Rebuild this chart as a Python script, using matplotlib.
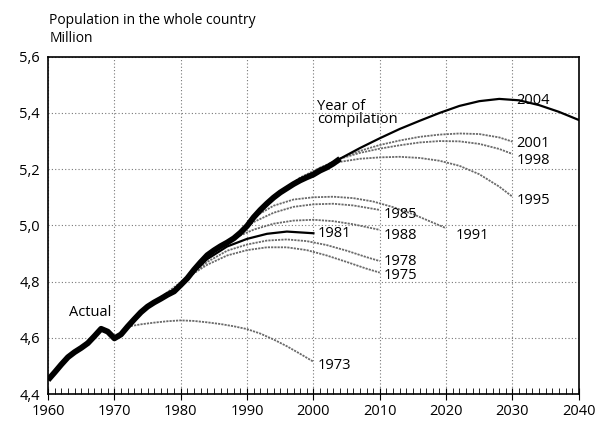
import matplotlib
matplotlib.use('Agg')
from matplotlib import pyplot as plt
from matplotlib.ticker import MultipleLocator, FuncFormatter

plt.rcParams['font.family'] = ['Open Sans', 'DejaVu Sans']

# actual population, million
actual_years = [1960, 1961, 1962, 1963, 1964, 1965, 1966, 1967, 1968, 1969, 1970,
                1971, 1972, 1973, 1974, 1975, 1976, 1977, 1978, 1979, 1980,
                1981, 1982, 1983, 1984, 1985, 1986, 1987, 1988, 1989, 1990,
                1991, 1992, 1993, 1994, 1995, 1996, 1997, 1998, 1999, 2000,
                2001, 2002, 2003, 2004]
actual_vals = [4.450, 4.477, 4.505, 4.531, 4.549, 4.564, 4.581, 4.606, 4.632, 4.622, 4.598,
               4.612, 4.640, 4.666, 4.691, 4.711, 4.726, 4.739, 4.753, 4.765, 4.788,
               4.812, 4.842, 4.869, 4.894, 4.911, 4.926, 4.939, 4.954, 4.974, 4.998,
               5.029, 5.055, 5.078, 5.099, 5.117, 5.132, 5.147, 5.160, 5.171, 5.181,
               5.195, 5.206, 5.220, 5.237]

# projections by year of compilation
proj = {
    '1973': ([1972, 1974, 1976, 1978, 1980, 1982, 1984, 1986, 1988, 1990, 1992, 1994, 1996, 1998, 2000],
             [4.640, 4.648, 4.654, 4.659, 4.662, 4.660, 4.655, 4.649, 4.641, 4.631, 4.615, 4.594, 4.570, 4.543, 4.515]),
    '1975': ([1975, 1978, 1981, 1984, 1987, 1990, 1993, 1996, 1999, 2002, 2005, 2008, 2010],
             [4.711, 4.762, 4.815, 4.860, 4.893, 4.912, 4.922, 4.922, 4.912, 4.893, 4.870, 4.846, 4.832]),
    '1978': ([1978, 1981, 1984, 1987, 1990, 1993, 1996, 1999, 2002, 2005, 2008, 2010],
             [4.753, 4.810, 4.870, 4.910, 4.932, 4.946, 4.950, 4.944, 4.930, 4.910, 4.887, 4.873]),
    '1981': ([1981, 1984, 1987, 1990, 1993, 1996, 2000],
             [4.812, 4.880, 4.925, 4.952, 4.970, 4.978, 4.972]),
    '1985': ([1985, 1988, 1991, 1994, 1997, 2000, 2003, 2006, 2010],
             [4.911, 4.960, 5.012, 5.045, 5.066, 5.075, 5.077, 5.071, 5.055]),
    '1988': ([1988, 1991, 1994, 1997, 2000, 2003, 2006, 2010],
             [4.954, 4.985, 5.006, 5.017, 5.020, 5.015, 5.004, 4.984]),
    '1991': ([1991, 1994, 1997, 2000, 2003, 2006, 2009, 2012, 2015, 2018, 2020],
             [5.029, 5.070, 5.092, 5.100, 5.102, 5.097, 5.085, 5.065, 5.040, 5.010, 4.990]),
    '1995': ([1995, 1998, 2001, 2004, 2007, 2010, 2013, 2016, 2019, 2022, 2025, 2028, 2030],
             [5.117, 5.170, 5.205, 5.226, 5.237, 5.242, 5.244, 5.240, 5.230, 5.212, 5.182, 5.138, 5.102]),
    '1998': ([1998, 2001, 2004, 2007, 2010, 2013, 2016, 2019, 2022, 2025, 2028, 2030],
             [5.160, 5.205, 5.237, 5.258, 5.273, 5.285, 5.295, 5.300, 5.299, 5.290, 5.272, 5.254]),
    '2001': ([2001, 2004, 2007, 2010, 2013, 2016, 2019, 2022, 2025, 2028, 2030],
             [5.195, 5.238, 5.265, 5.286, 5.302, 5.315, 5.323, 5.327, 5.325, 5.313, 5.298]),
    '2004': ([2004, 2007, 2010, 2013, 2016, 2019, 2022, 2025, 2028, 2031, 2034, 2037, 2040],
             [5.237, 5.275, 5.310, 5.343, 5.372, 5.400, 5.425, 5.442, 5.450, 5.445, 5.428, 5.404, 5.375]),
}

# label positions (year, value)
label_pos = {
    '1973': (2000.6, 4.50), '1975': (2010.6, 4.82), '1978': (2010.6, 4.87),
    '1981': (2000.6, 4.97), '1985': (2010.6, 5.04), '1988': (2010.6, 4.965),
    '1991': (2021.5, 4.965), '1995': (2030.6, 5.09), '1998': (2030.6, 5.23),
    '2001': (2030.6, 5.29), '2004': (2030.6, 5.445),
}

fig = plt.figure(figsize=(6.08, 4.28), dpi=100)
ax = fig.add_axes([0.079, 0.0794, 0.873, 0.788])

for name, (xs, ys) in proj.items():
    if name in ('1981', '2004'):
        ax.plot(xs, ys, c='black', lw=1.6, zorder=3)
    else:
        ax.plot(xs, ys, c='#6a6a6a', lw=1.3, ls=(0, (1.2, 0.6)), zorder=2)
    lx, ly = label_pos[name]
    ax.text(lx, ly, name, fontsize=10.5, va='center', ha='left')

ax.plot(actual_years, actual_vals, c='black', lw=4.2, solid_capstyle='butt',
        solid_joinstyle='round', zorder=4)

ax.text(1966.3, 4.69, 'Actual', fontsize=10.5, ha='center', va='center')
ax.text(2000.6, 5.40, 'Year of\ncompilation', fontsize=10.5, ha='left', va='center',
        linespacing=0.85)

ax.set_xlim(1960, 2040)
ax.set_ylim(4.4, 5.6)
ax.xaxis.set_major_locator(MultipleLocator(10))
ax.xaxis.set_minor_locator(MultipleLocator(1))
ax.yaxis.set_major_locator(MultipleLocator(0.2))
ax.yaxis.set_major_formatter(FuncFormatter(lambda v, p: ('%.1f' % v).replace('.', ',')))
ax.tick_params(axis='x', which='major', direction='inout', length=8, labelsize=10.5)
ax.tick_params(axis='x', which='minor', direction='in', length=4)
ax.tick_params(axis='y', length=0, labelsize=10.5, pad=6)
ax.grid(True, which='major', ls=(0, (1, 2)), c='#777777', lw=0.8)
for s in ax.spines.values():
    s.set_linewidth(1.2)

fig.text(0.081, 0.953, 'Population in the whole country', fontsize=10, ha='left', va='center')
fig.text(0.081, 0.91, 'Million', fontsize=10, ha='left', va='center')

fig.savefig('out.png', dpi=100)
